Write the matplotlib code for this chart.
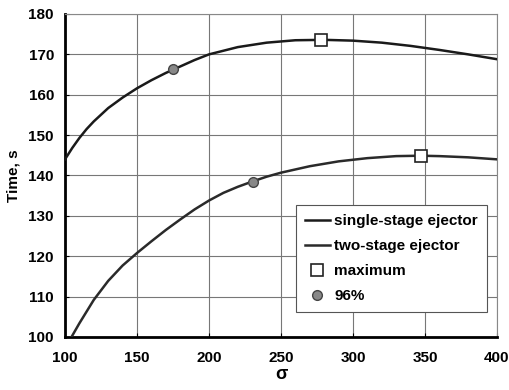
import matplotlib
matplotlib.use('Agg')
import matplotlib.pyplot as plt

plt.rcParams['font.family'] = ['Liberation Sans', 'DejaVu Sans']
plt.rcParams['font.weight'] = 'bold'

# time curves vs sigma
SIGMA_SINGLE = [100, 105, 110, 115, 120, 130, 140, 150, 160, 170, 180, 190, 200, 220, 240,
                260, 280, 300, 320, 340, 360, 380, 400]
TIME_SINGLE = [144.0, 146.8, 149.3, 151.5, 153.4, 156.7, 159.3, 161.6, 163.6, 165.4, 167.0,
               168.6, 170.0, 171.8, 172.9, 173.5, 173.6, 173.4, 172.9, 172.1, 171.1, 170.0,
               168.8]

SIGMA_TWO = [100, 110, 120, 130, 140, 150, 160, 170, 180, 190, 200, 210, 220, 230, 240,
             250, 270, 290, 310, 330, 347, 360, 380, 400]
TIME_TWO = [97.2, 103.4, 109.2, 113.9, 117.7, 120.8, 123.7, 126.5, 129.1, 131.6, 133.8,
            135.7, 137.2, 138.5, 139.7, 140.7, 142.3, 143.5, 144.3, 144.8, 144.9, 144.8,
            144.5, 144.0]

MAX_SIGMA = [278, 347]
MAX_TIME = [173.6, 144.9]
P96_SIGMA = [175, 230.5]
P96_TIME = [166.3, 138.5]

X_TICKS = [100, 150, 200, 250, 300, 350, 400]
Y_TICKS = [100, 110, 120, 130, 140, 150, 160, 170, 180]


def main():
    fig = plt.figure(figsize=(5.1, 3.9), dpi=100)
    ax = fig.add_axes([65 / 510, 1 - 337 / 390, 432 / 510, 323 / 390])

    ax.plot(SIGMA_SINGLE, TIME_SINGLE, color='#1a1a1a', lw=1.8, label='single-stage ejector',
            zorder=3)
    ax.plot(SIGMA_TWO, TIME_TWO, color='#2a2a2a', lw=1.8, label='two-stage ejector', zorder=3)
    ax.plot(MAX_SIGMA, MAX_TIME, 's', ms=9, mfc='white', mec='#222222', mew=1.2,
            ls='none', label='maximum', zorder=4)
    ax.plot(P96_SIGMA, P96_TIME, 'o', ms=7, mfc='#888888', mec='#444444', mew=1.0,
            ls='none', label='96%', zorder=4)

    ax.set_xlim(100, 400)
    ax.set_ylim(100, 180)
    ax.set_xticks(X_TICKS)
    ax.set_yticks(Y_TICKS)
    ax.grid(True, color='#777777', lw=0.8)
    ax.tick_params(labelsize=11, length=3, direction='in')
    ax.tick_params(axis='x', pad=10)
    ax.tick_params(axis='y', pad=8)

    for side in ('left', 'bottom'):
        ax.spines[side].set_linewidth(2.0)
        ax.spines[side].set_color('black')
    for side in ('top', 'right'):
        ax.spines[side].set_linewidth(0.8)
        ax.spines[side].set_color('#888888')

    ax.set_xlabel('σ', fontsize=13, fontweight='bold', labelpad=1)
    ax.set_ylabel('Time, s', fontsize=11, fontweight='bold', labelpad=6)

    leg = ax.legend(loc='lower right', bbox_to_anchor=(0.977, 0.076), fontsize=11,
                    frameon=True, fancybox=False, edgecolor='#555555', framealpha=1,
                    handlelength=1.6, handletextpad=0.3, borderpad=0.6, labelspacing=0.72,
                    borderaxespad=0)
    leg.get_frame().set_linewidth(0.8)

    fig.savefig('out.png', dpi=100)


if __name__ == "__main__":
    main()
